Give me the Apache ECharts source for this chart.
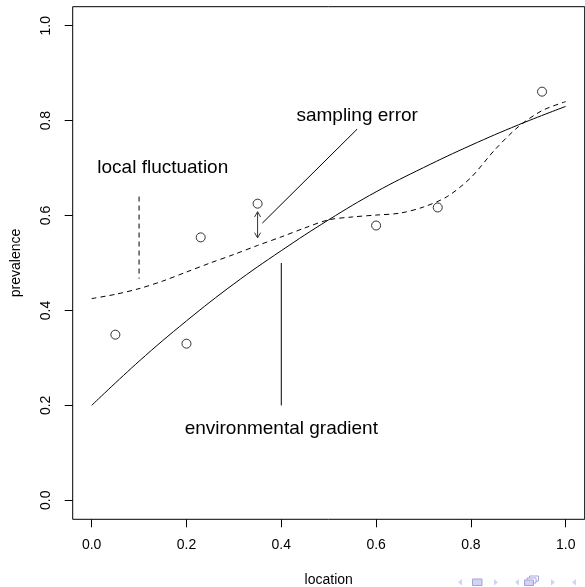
<!DOCTYPE html>
<html>
<head>
<meta charset="utf-8">
<script src="https://cdn.jsdelivr.net/npm/echarts@6/dist/echarts.min.js"></script>
<style>
html,body{margin:0;padding:0;background:#fff;}
#chart{width:585px;height:587px;}
</style>
</head>
<body>
<div id="chart"></div>
<script>
// ---- data ----
const solidX = [0.0, 0.1, 0.2, 0.3, 0.4, 0.5, 0.6, 0.7, 0.8, 0.9, 1.0];
const solidY = [0.200, 0.293, 0.378, 0.456, 0.526, 0.591, 0.650, 0.701, 0.748, 0.791, 0.830];
const dashX = [0.0, 0.05, 0.1, 0.15, 0.2, 0.25, 0.3, 0.35, 0.4, 0.45, 0.5, 0.55, 0.6, 0.65, 0.7, 0.75, 0.8, 0.85, 0.9, 0.95, 1.0];
const dashY = [0.425, 0.434, 0.446, 0.462, 0.481, 0.500, 0.518, 0.537, 0.555, 0.574, 0.591, 0.597, 0.601, 0.605, 0.618, 0.640, 0.680, 0.738, 0.787, 0.821, 0.840];
const pointX = [0.05, 0.20, 0.23, 0.35, 0.60, 0.73, 0.95];
const pointY = [0.349, 0.330, 0.554, 0.625, 0.579, 0.617, 0.861];
const tickValues = [0.0, 0.2, 0.4, 0.6, 0.8, 1.0];
const xTickLabels = ['0.0', '0.2', '0.4', '0.6', '0.8', '1.0'];
const yTickLabels = ['0.0', '0.2', '0.4', '0.6', '0.8', '1.0'];
const noteTexts = ['local fluctuation', 'sampling error', 'environmental gradient'];
const noteX = [0.15, 0.56, 0.40];
const noteY = [0.70, 0.81, 0.15];
const segX1 = [0.10, 0.56, 0.40];
const segY1 = [0.640, 0.782, 0.200];
const segX2 = [0.10, 0.36, 0.40];
const segY2 = [0.467, 0.584, 0.500];
const segDashed = [1, 0, 0];
const arrowX = [0.35];
const arrowYFrom = [0.553];
const arrowYTo = [0.608];
const xTitle = 'location';
const yTitle = 'prevalence';

// ---- build ----
const FONT = '"Liberation Sans", Arial, Helvetica, sans-serif';
const zip = (a, b) => a.map((v, i) => [v, b[i]]);
const tickFmt = (labels) => (v) => {
  const i = tickValues.findIndex(t => Math.abs(t - v) < 1e-6);
  return i >= 0 ? labels[i] : '';
};

const chart = echarts.init(document.getElementById('chart'), null, {renderer: 'canvas'});

const navColor = '#d2d2f2';
const navStroke = '#a4a4dc';
const tri = (x, dir) => ({
  type: 'polygon',
  shape: {points: dir < 0 ? [[x + 4, 579], [x + 4, 585.5], [x, 582.2]] : [[x, 579], [x, 585.5], [x + 4, 582.2]]},
  style: {fill: navColor}
});

const axisCommon = {
  type: 'value', min: -0.04, max: 1.04,
  axisLine: {show: false, onZero: false},
  splitLine: {show: false}
};

const option = {
  animation: false,
  backgroundColor: '#ffffff',
  grid: [
    {left: 72.7, top: 6.7, width: 512, height: 512.6, containLabel: false, outerBoundsMode: 'none',
     show: true, borderColor: '#000', borderWidth: 1, backgroundColor: 'transparent'}
  ],
  xAxis: [Object.assign({}, axisCommon, {
    position: 'bottom',
    axisTick: {show: true, inside: false, length: 8, customValues: tickValues, lineStyle: {color: '#000', width: 1}},
    axisLabel: {show: true, margin: 19, customValues: tickValues, color: '#000', fontSize: 14, fontFamily: FONT, formatter: tickFmt(xTickLabels)},
    name: xTitle, nameLocation: 'middle', nameGap: 54,
    nameTextStyle: {color: '#000', fontSize: 14, fontFamily: FONT}
  })],
  yAxis: [Object.assign({}, axisCommon, {
    position: 'left',
    axisTick: {show: true, inside: false, length: 8, customValues: tickValues, lineStyle: {color: '#000', width: 1}},
    axisLabel: {show: true, rotate: 90, margin: 20, customValues: tickValues, color: '#000', fontSize: 14, fontFamily: FONT, formatter: tickFmt(yTickLabels)},
    name: yTitle, nameLocation: 'middle', nameGap: 50, nameRotate: 90,
    nameTextStyle: {color: '#000', fontSize: 14, fontFamily: FONT}
  })],
  series: [
    {
      type: 'line', data: zip(solidX, solidY), smooth: 0.4,
      symbol: 'none', lineStyle: {color: '#000', width: 1}, z: 3
    },
    {
      type: 'line', data: zip(dashX, dashY), smooth: 0.3,
      symbol: 'none', lineStyle: {color: '#000', width: 1, type: [5, 4]}, z: 3
    },
    {
      type: 'scatter', data: zip(pointX, pointY),
      symbol: 'circle', symbolSize: 9,
      itemStyle: {color: 'rgba(255,255,255,0)', borderColor: '#000', borderWidth: 1}, z: 4
    },
    {
      type: 'custom',
      data: segX1.map((v, i) => [v, segY1[i], segX2[i], segY2[i], segDashed[i]]),
      renderItem: (params, api) => {
        const p1 = api.coord([api.value(0), api.value(1)]);
        const p2 = api.coord([api.value(2), api.value(3)]);
        return {
          type: 'line',
          shape: {x1: p1[0], y1: p1[1], x2: p2[0], y2: p2[1]},
          style: {stroke: '#000', lineWidth: 1, lineDash: api.value(4) ? [5, 4] : null}
        };
      }, z: 3
    },
    {
      type: 'custom',
      data: arrowX.map((v, i) => [v, arrowYFrom[i], v, arrowYTo[i]]),
      renderItem: (params, api) => {
        const a = api.coord([api.value(0), api.value(1)]);
        const b = api.coord([api.value(2), api.value(3)]);
        const head = (tip, from) => {
          const ang = Math.atan2(tip[1] - from[1], tip[0] - from[0]);
          const L = 6, w = Math.PI / 6;
          return {
            type: 'polyline',
            shape: {points: [
              [tip[0] - L * Math.cos(ang - w), tip[1] - L * Math.sin(ang - w)],
              tip,
              [tip[0] - L * Math.cos(ang + w), tip[1] - L * Math.sin(ang + w)]
            ]},
            style: {stroke: '#333', lineWidth: 1, fill: null}
          };
        };
        return {
          type: 'group',
          children: [
            {type: 'line', shape: {x1: a[0], y1: a[1], x2: b[0], y2: b[1]}, style: {stroke: '#333', lineWidth: 1}},
            head(a, b), head(b, a)
          ]
        };
      }, z: 3
    },
    {
      type: 'custom',
      data: noteX.map((v, i) => [v, noteY[i], i]),
      renderItem: (params, api) => {
        const p = api.coord([api.value(0), api.value(1)]);
        return {
          type: 'text', x: p[0], y: p[1],
          style: {text: noteTexts[api.value(2)], fill: '#000', font: '19px ' + FONT, align: 'center', verticalAlign: 'middle'}
        };
      }, z: 5
    }
  ],
  graphic: [
    tri(458, -1),
    {type: 'rect', shape: {x: 472.5, y: 579, width: 9.5, height: 6.5}, style: {fill: navColor, stroke: navStroke, lineWidth: 1}},
    tri(494, 1),
    tri(515, -1),
    {type: 'rect', shape: {x: 529.5, y: 576, width: 9, height: 5}, style: {fill: '#fff', stroke: navStroke, lineWidth: 1}},
    {type: 'rect', shape: {x: 527, y: 578, width: 9, height: 5}, style: {fill: '#fff', stroke: navStroke, lineWidth: 1}},
    {type: 'rect', shape: {x: 524.5, y: 580, width: 9, height: 5.5}, style: {fill: navColor, stroke: navStroke, lineWidth: 1}},
    tri(551, 1),
    tri(572, -1)
  ]
};
chart.setOption(option);
</script>
</body>
</html>
